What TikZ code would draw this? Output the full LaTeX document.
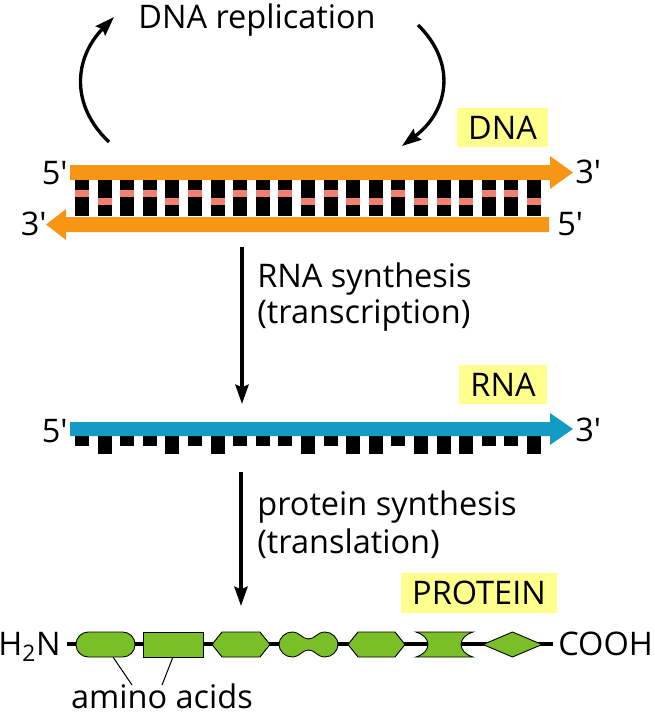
\documentclass[tikz,border=0pt]{standalone}
\usepackage{fontspec}
\setmainfont{Open Sans}
\usetikzlibrary{arrows.meta}
\definecolor{dnaorange}{RGB}{247,150,20}
\definecolor{basepink}{RGB}{240,128,112}
\definecolor{rnablue}{RGB}{20,155,195}
\definecolor{aagreen}{RGB}{122,190,40}
\definecolor{labelyellow}{RGB}{255,255,140}
\begin{document}
\begin{tikzpicture}[x=0.02cm,y=-0.02cm]
            \tikzset{txt/.style={font=\fontsize{18.5}{21}\selectfont, inner sep=0pt},
                     molbox/.style={txt, fill=labelyellow, minimum height=0.78cm, inner xsep=0.22cm},
                     flow/.style={line width=1.9pt, -{Stealth[length=11pt, width=7.5pt, inset=1.5pt]}},
                     backbone/.style={line width=2.3pt},
                     aa/.style={fill=aagreen, draw=black, line width=0.5pt},
                     pointer/.style={line width=0.6pt}};
            \useasboundingbox (0,0) rectangle (654,717);

            % replication
            \node[txt, anchor=base] (repl) at (257,28) {DNA replication};
            \coordinate (rl start) at (109,142);
            \coordinate (rl tip) at (114,17);
            \coordinate (rr start) at (418,25);
            \coordinate (rr tip) at (402,146);
            \draw[flow] (rl start) .. controls (70,105) and (74,58) .. (rl tip);
            \draw[flow] (rr start) .. controls (456,62) and (450,110) .. (rr tip);

            % DNA
            \node[molbox] (dna) at (502.5,127.5) {DNA};
            \fill[dnaorange] (70,165) -- (550,165) -- (550,156) -- (573,172.5) -- (550,189) -- (550,180) -- (70,180) -- cycle;
            \fill[dnaorange] (549,217) -- (66,217) -- (66,209) -- (46,224.5) -- (66,240) -- (66,232) -- (549,232) -- cycle;
            \foreach \b [count=\i from 0] in {0,1,0,0,1,0,1,0,0,0,1,0,1,1,0,1,1,1,0,0,1} {
                \pgfmathsetmacro\rx{75+22.6*\i}
                \fill (\rx,180) rectangle ++(14,36);
                \fill[basepink] (\rx,190+8*\b) rectangle ++(14,7);
                \fill (\rx,436) rectangle ++(14,10+8*\b);
            }
            \node[txt, anchor=east] (d5a) at (68,173) {5′};
            \node[txt, anchor=west] (d3a) at (575,172) {3′};
            \node[txt, anchor=east] (d3b) at (47,224) {3′};
            \node[txt, anchor=west] (d5b) at (557,224) {5′};

            % transcription
            \coordinate (tr top) at (242,247);
            \coordinate (tr end) at (242,404);
            \draw[flow] (tr top) -- (tr end);
            \node[txt, anchor=base west] (tr1) at (257,287) {RNA synthesis};
            \node[txt, anchor=base west] (tr2) at (257,323) {(transcription)};

            % RNA
            \node[molbox] (rna) at (503,384.5) {RNA};
            \fill[rnablue] (70,422) -- (550,422) -- (550,413) -- (573,429) -- (550,445) -- (550,436) -- (70,436) -- cycle;
            \node[txt, anchor=east] (r5) at (68,431) {5′};
            \node[txt, anchor=west] (r3) at (575,430) {3′};

            % translation
            \coordinate (tl top) at (241,472);
            \coordinate (tl end) at (241,606);
            \draw[flow] (tl top) -- (tl end);
            \node[txt, anchor=base west] (tl1) at (257,515) {protein synthesis};
            \node[txt, anchor=base west] (tl2) at (257,553) {(translation)};

            % protein
            \node[molbox, minimum height=0.8cm] (prot) at (479,593) {PROTEIN};
            \node[txt, anchor=base east] (nterm) at (61,655) {H\textsubscript{2}N};
            \node[txt, anchor=base west] (cterm) at (558,655) {COOH};
            \coordinate (nend) at (67,644);
            \coordinate (cend) at (553,644);
            \draw[backbone] (nend) -- (cend);

            \draw[aa, rounded corners=7pt] (76,632) rectangle (135,657);
            \draw[aa] (143,632) rectangle (203,657);
            \draw[aa] (212,644.5) -- (222,632) -- (260,632) -- (270,644.5) -- (260,657) -- (222,657) -- cycle;
            \draw[aa] (292,632) .. controls (285,632) and (279,638) .. (279,644.5)
                .. controls (279,651) and (285,657) .. (292,657)
                .. controls (300,657) and (302,650) .. (308.5,650)
                .. controls (315,650) and (317,657) .. (325,657)
                .. controls (332,657) and (338,651) .. (338,644.5)
                .. controls (338,638) and (332,632) .. (325,632)
                .. controls (317,632) and (315,639) .. (308.5,639)
                .. controls (302,639) and (300,632) .. (292,632) -- cycle;
            \draw[aa] (348,644.5) -- (358,632) -- (395,632) -- (405,644.5) -- (395,657) -- (358,657) -- cycle;
            \draw[aa] (416,632) -- (473,632) .. controls (457,637) and (457,652) .. (473,657)
                -- (416,657) .. controls (432,652) and (432,637) .. (416,632) -- cycle;
            \draw[aa] (483,644.5) -- (512.5,632) -- (542,644.5) -- (512.5,657) -- cycle;

            \node[txt, anchor=base] (amino) at (162,708) {amino acids};
            \coordinate (p1) at (113,657);
            \coordinate (q1) at (132,685);
            \coordinate (p2) at (173,657);
            \coordinate (q2) at (162,685);
            \draw[pointer] (p1) -- (q1);
            \draw[pointer] (p2) -- (q2);
\end{tikzpicture}
\end{document}
